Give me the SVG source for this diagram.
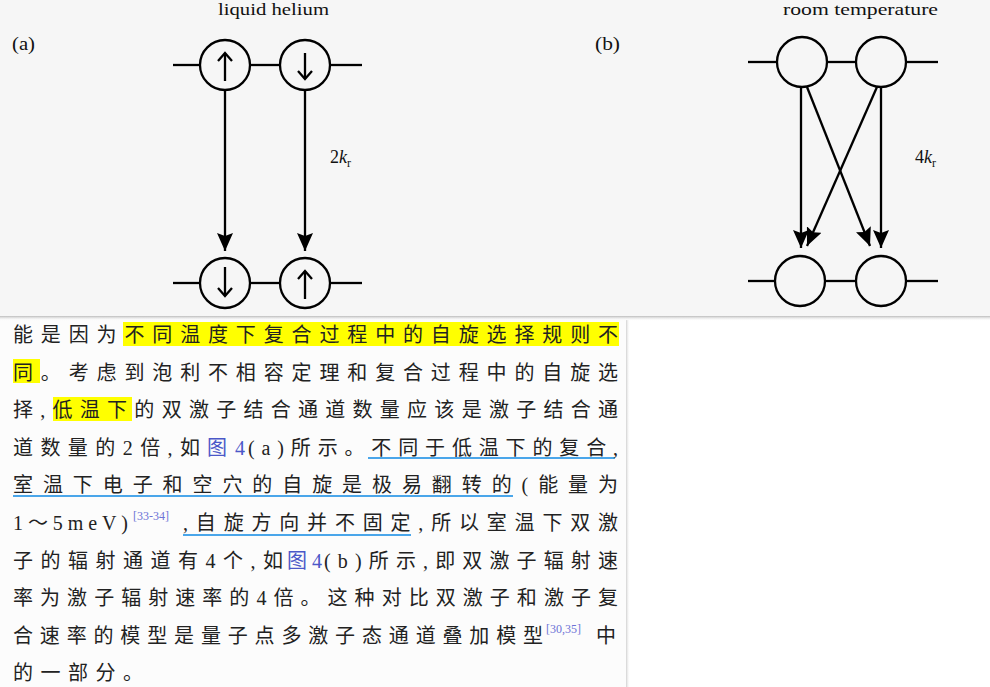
<svg xmlns="http://www.w3.org/2000/svg" width="990" height="687" viewBox="0 0 990 687">
<defs>
<style>
.ln{stroke:#000;stroke-width:2.3;fill:none}
.circ{stroke:#000;stroke-width:2.3;fill:none}
.lbl{font-family:"Liberation Serif",serif;font-size:18px;fill:#111}
.ttl{font-family:"Liberation Serif",serif;font-size:16px;fill:#111}
.t{font-family:"Liberation Serif","Noto Sans CJK SC",serif;font-size:20px;fill:#222}
.lnk{fill:#4b58c8}
.sup{font-family:"Liberation Serif",serif;font-size:12px;fill:#6d72d6}
.hl{fill:#ffff00}
.ul{stroke:#4aa6ea;stroke-width:2}
</style>
<marker id="ah" markerUnits="userSpaceOnUse" markerWidth="18" markerHeight="16" refX="18" refY="8" orient="auto">
<path d="M0,0 L18,8 L0,16 L3,8 z" fill="#000"/>
</marker>
<linearGradient id="sh" x1="0" y1="0" x2="0" y2="1">
<stop offset="0" stop-color="#bdbdbd"/>
<stop offset="1" stop-color="#ffffff" stop-opacity="0"/>
</linearGradient>
<linearGradient id="shr" x1="0" y1="0" x2="1" y2="0">
<stop offset="0" stop-color="#d0d0d0"/>
<stop offset="1" stop-color="#ffffff" stop-opacity="0"/>
</linearGradient>
</defs>
<rect x="0" y="0" width="990" height="687" fill="#ffffff"/>
<rect x="0" y="0" width="990" height="317" fill="#f6f6f6"/>
<rect x="0" y="320" width="626" height="367" fill="#fcfcfc"/>
<rect x="626" y="320" width="4" height="367" fill="url(#shr)"/>
<rect x="0" y="316" width="990" height="5" fill="url(#sh)"/>

<g id="panel-a">
<text class="lbl" x="12" y="50" textLength="23" lengthAdjust="spacingAndGlyphs">(a)</text>
<text class="ttl" x="218" y="15" textLength="111" lengthAdjust="spacingAndGlyphs">liquid helium</text>
<line class="ln" x1="173" y1="65" x2="200" y2="65"/>
<line class="ln" x1="250" y1="65" x2="280" y2="65"/>
<line class="ln" x1="330" y1="65" x2="362" y2="65"/>
<line class="ln" x1="173" y1="283" x2="200" y2="283"/>
<line class="ln" x1="250" y1="283" x2="280" y2="283"/>
<line class="ln" x1="330" y1="283" x2="362" y2="283"/>
<text class="lbl" x="330" y="163">2<tspan font-style="italic">k</tspan><tspan font-size="12" dy="4">r</tspan></text>
</g>
<g id="a-top-up">
<circle class="circ" cx="225" cy="65" r="25"/>
<line class="ln" x1="225" y1="81" x2="225" y2="53"/>
<polyline class="ln" points="218,61 225,53 232,61"/>
</g>
<g id="a-top-down">
<circle class="circ" cx="305" cy="65" r="25"/>
<line class="ln" x1="305" y1="53" x2="305" y2="79"/>
<polyline class="ln" points="298,71 305,79 312,71"/>
</g>
<g id="a-bot-down">
<circle class="circ" cx="225" cy="283" r="25"/>
<line class="ln" x1="225" y1="267" x2="225" y2="296"/>
<polyline class="ln" points="218,288 225,296 232,288"/>
</g>
<g id="a-bot-up">
<circle class="circ" cx="305" cy="283" r="25"/>
<line class="ln" x1="305" y1="299" x2="305" y2="271"/>
<polyline class="ln" points="298,279 305,271 312,279"/>
</g>

<g id="panel-b">
<text class="lbl" x="595" y="50" textLength="25" lengthAdjust="spacingAndGlyphs">(b)</text>
<text class="ttl" x="783" y="15" textLength="155" lengthAdjust="spacingAndGlyphs">room temperature</text>
<line class="ln" x1="748" y1="62" x2="777" y2="62"/>
<line class="ln" x1="827" y1="62" x2="856" y2="62"/>
<line class="ln" x1="906" y1="62" x2="938" y2="62"/>
<line class="ln" x1="748" y1="281" x2="775" y2="281"/>
<line class="ln" x1="825" y1="281" x2="856" y2="281"/>
<line class="ln" x1="906" y1="281" x2="938" y2="281"/>
<text class="lbl" x="915" y="163">4<tspan font-style="italic">k</tspan><tspan font-size="12" dy="4">r</tspan></text>
</g>
<g id="b-top-1"><circle class="circ" cx="802" cy="62" r="25"/></g>
<g id="b-top-2"><circle class="circ" cx="881" cy="62" r="25"/></g>
<g id="b-bot-1"><circle class="circ" cx="800" cy="281" r="25"/></g>
<g id="b-bot-2"><circle class="circ" cx="881" cy="281" r="25"/></g>

<g id="connectors">
<line class="ln" x1="225" y1="90" x2="225" y2="251" marker-end="url(#ah)"/>
<line class="ln" x1="305" y1="90" x2="305" y2="251" marker-end="url(#ah)"/>
<line class="ln" x1="801" y1="87" x2="801" y2="248" marker-end="url(#ah)"/>
<line class="ln" x1="807" y1="87" x2="870" y2="246" marker-end="url(#ah)"/>
<line class="ln" x1="877" y1="87" x2="807" y2="246" marker-end="url(#ah)"/>
<line class="ln" x1="881" y1="87" x2="881" y2="248" marker-end="url(#ah)"/>
</g>

<g id="body-text">
<rect class="hl" x="123" y="322" width="496" height="24"/>
<rect class="hl" x="13" y="359" width="27" height="24"/>
<rect class="hl" x="53" y="397" width="79" height="24"/>
<line class="ul" x1="368" y1="458" x2="615" y2="458"/>
<line class="ul" x1="13" y1="496" x2="513" y2="496"/>
<line class="ul" x1="183" y1="535" x2="411" y2="535"/>

<text class="t" x="13" y="342" textLength="605" lengthAdjust="spacing">能是因为不同温度下复合过程中的自旋选择规则不</text>
<text class="t" x="13" y="380" textLength="605" lengthAdjust="spacing">同。考虑到泡利不相容定理和复合过程中的自旋选</text>
<text class="t" x="13" y="417" textLength="605" lengthAdjust="spacing">择,低温下的双激子结合通道数量应该是激子结合通</text>
<text class="t" x="13" y="455" textLength="187" lengthAdjust="spacing">道数量的2倍,如</text>
<text class="t lnk" x="207" y="455" textLength="38" lengthAdjust="spacing">图4</text>
<text class="t" x="248" y="455" textLength="370" lengthAdjust="spacing">(a)所示。不同于低温下的复合,</text>
<text class="t" x="13" y="492" textLength="605" lengthAdjust="spacing">室温下电子和空穴的自旋是极易翻转的(能量为</text>
<text class="t" x="13" y="530" textLength="115" lengthAdjust="spacing">1～5meV)</text>
<text class="sup" x="133" y="520">[33-34]</text>
<text class="t" x="183" y="530" textLength="435" lengthAdjust="spacing">,自旋方向并不固定,所以室温下双激</text>
<text class="t" x="13" y="568" textLength="270" lengthAdjust="spacing">子的辐射通道有4个,如</text>
<text class="t lnk" x="287" y="568" textLength="35" lengthAdjust="spacing">图4</text>
<text class="t" x="324" y="568" textLength="294" lengthAdjust="spacing">(b)所示,即双激子辐射速</text>
<text class="t" x="13" y="605" textLength="605" lengthAdjust="spacing">率为激子辐射速率的4倍。这种对比双激子和激子复</text>
<text class="t" x="13" y="643" textLength="530" lengthAdjust="spacing">合速率的模型是量子点多激子态通道叠加模型</text>
<text class="sup" x="546" y="633">[30,35]</text>
<text class="t" x="596" y="643">中</text>
<text class="t" x="13" y="680" textLength="130" lengthAdjust="spacing">的一部分。</text>
</g>
</svg>
